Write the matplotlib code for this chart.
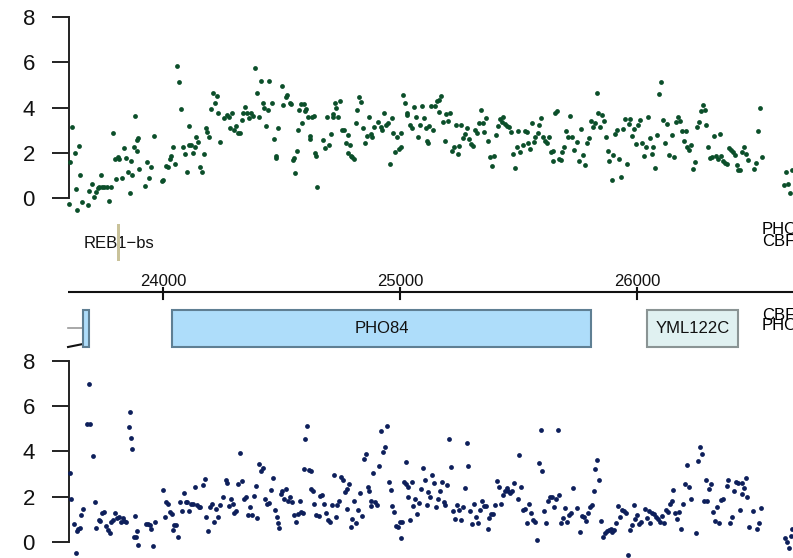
import matplotlib
matplotlib.use("Agg")
import matplotlib.pyplot as plt
from matplotlib.patches import Rectangle
import numpy as np

plt.rcParams['font.family'] = ['Liberation Sans', 'DejaVu Sans']

# ---------------------------------------------------------------- data
# genomic window (bp)
x_start, x_end = 23603, 26658
axis_ticks = [24000, 25000, 26000]
y_ticks = [0, 2, 4, 6, 8]

# upper strand signal: position (bp), value
top_pos = [
    23607, 23603, 23616, 23628, 23637, 23633, 23645, 23650, 23658, 23683, 23688, 23700,
    23709, 23717, 23725, 23730, 23738, 23742, 23751, 23763, 23772, 23780, 23789, 23797,
    23801, 23810, 23814, 23827, 23835, 23844, 23852, 23860, 23865, 23869, 23877, 23882,
    23890, 23894, 23898, 23888, 23924, 23932, 23941, 23949, 23962, 23996, 24000, 24012,
    24021, 24029, 24033, 24042, 24050, 24059, 24067, 24076, 24084, 24093, 24101, 24109,
    24111, 24118, 24126, 24135, 24139, 24147, 24156, 24164, 24173, 24181, 24185, 24194,
    24202, 24211, 24219, 24228, 24232, 24240, 24257, 24270, 24278, 24282, 24291, 24299,
    24308, 24316, 24325, 24333, 24337, 24346, 24354, 24363, 24371, 24379, 24388, 24396,
    24405, 24413, 24422, 24426, 24434, 24443, 24447,
    24502, 24519, 24523, 24506, 24536, 24540, 24460, 24485, 24468, 24476, 24478, 24548,
    24552, 24557, 24565, 24569, 24574, 24582, 24595, 24586, 24597, 24603, 24611, 24620,
    24622, 24628, 24637, 24641, 24645, 24649, 24675, 24683, 24692, 24700, 24709, 24717,
    24719, 24725, 24730, 24738, 24747, 24755, 24763, 24772, 24780, 24782, 24789, 24791,
    24797, 24806, 24814, 24818, 24827, 24835, 24843, 24852, 24860, 24869, 24877, 24881,
    24890, 24907, 24919, 24924, 24932, 24941, 24949, 24957, 24966, 24970, 24979, 24987,
    24995, 25004, 25006, 25012, 25021, 25029, 25031, 25042, 25050, 25059, 25067, 25076,
    25084, 25092, 25101, 25109, 25114, 25116, 25122, 25130, 25139, 25147, 25156, 25164,
    25173, 25166, 25181, 25189, 25194, 25202, 25211, 25219, 25227, 25236, 25244, 25249,
    25257, 25265, 25274, 25282, 25291, 25299, 25308, 25316, 25324, 25333, 25341, 25350,
    25354, 25362, 25371, 25379, 25388, 25396, 25405, 25413, 25422, 25430, 25434, 25443,
    25451, 25460, 25468, 25476, 25485, 25493, 25497,
    25506, 25519, 25527, 25535, 25540, 25548, 25557, 25565, 25569, 25582, 25586, 25594,
    25603, 25611, 25620, 25628, 25637, 25645, 25647, 25654, 25662, 25670, 25679, 25683,
    25692, 25700, 25708, 25717, 25725, 25734, 25746, 25755, 25763, 25772, 25780, 25789,
    25797, 25805, 25814, 25822, 25831, 25835, 25843, 25852, 25860, 25869, 25877, 25881,
    25894, 25898, 25907, 25915, 25924, 25932, 25940, 25949, 25957, 25966, 25970, 25978,
    25987, 25995, 26004, 26012, 26021, 26029, 26038, 26046, 26054, 26063, 26067, 26075,
    26084, 26092, 26101, 26109, 26118, 26126, 26135, 26147, 26156, 26164, 26173, 26181,
    26189, 26198, 26206, 26210, 26219, 26227, 26236, 26244, 26253, 26261, 26270, 26278,
    26286, 26291, 26299, 26308, 26316, 26324, 26333, 26341, 26350, 26354, 26362, 26371,
    26379, 26388, 26396, 26405, 26413, 26421, 26426, 26434, 26442, 26451, 26459, 26468,
    26493, 26502, 26510, 26518, 26527, 26620, 26628, 26637, 26645, 26653,
]
top_val = [
    1.62, -0.25, 3.13, 1.98, -0.51, 0.40, 2.32, 1.03, -0.16, -0.29, 0.34, 0.62,
    0.04, 0.28, 0.44, 0.51, 1.01, 0.51, 0.51, 0.51, -0.12, 0.51, 2.89, 1.75,
    0.85, 1.84, 1.75, 0.91, 2.20, 1.78, 1.15, 0.23, 1.66, 1.01, 2.28, 3.61,
    2.57, 2.64, 1.28, 2.07, 0.56, 1.62, 0.88, 1.40, 2.76, 0.76, 0.81, 1.44,
    1.37, 1.72, 1.86, 2.26, 1.51, 5.84, 5.14, 3.94, 2.28, 1.94, 1.17, 3.17,
    2.33, 2.33, 1.98, 2.28, 2.72, 2.47, 1.40, 1.17, 1.95, 3.08, 2.91, 2.69,
    3.95, 4.63, 4.18, 4.52, 3.74, 2.50, 3.52, 3.66, 3.60, 3.11, 3.74, 3.01,
    3.20, 2.86, 2.89, 3.45, 3.74, 4.04, 3.74, 3.52, 3.74, 3.63, 5.76, 4.65,
    3.60, 5.18, 4.18, 3.96, 3.19, 3.89, 5.17,
    4.95, 4.48, 4.57, 4.10, 4.18, 4.14, 4.18, 3.11, 2.63, 1.86, 1.76, 1.69,
    1.78, 1.10, 2.07, 3.01, 3.89, 4.14, 4.14, 3.30, 3.85, 3.92, 3.57, 2.75,
    2.63, 3.60, 3.64, 2.01, 1.88, 0.51, 2.57, 2.22, 3.57, 2.33, 2.83, 3.57,
    3.72, 4.18, 3.99, 3.57, 4.29, 3.01, 3.01, 2.42, 2.80, 1.98, 2.33, 1.88,
    1.84, 1.72, 3.33, 3.89, 4.45, 4.26, 3.11, 2.45, 2.75, 3.60, 2.83, 2.69,
    3.13, 3.38, 3.16, 3.01, 3.77, 3.22, 3.30, 1.53, 3.52, 2.86, 2.06, 2.72,
    2.16, 2.89, 2.28, 4.54, 4.18, 3.74, 3.67, 3.23, 3.08, 4.01, 3.57, 2.72,
    3.23, 4.07, 3.52, 3.08, 2.54, 2.42, 3.19, 4.07, 3.01, 4.07, 4.29, 4.33,
    4.51, 3.82, 3.38, 2.54, 3.72, 3.42, 3.74, 2.10, 2.28, 3.22, 1.94, 2.32,
    3.22, 2.67, 2.83, 3.08, 2.60, 2.39, 2.31, 3.01, 2.86, 3.30, 3.89, 3.33,
    2.94, 3.52, 2.54, 1.81, 1.44, 1.86, 2.79, 3.19, 3.48, 3.38, 3.57, 3.27,
    3.19, 3.13, 2.94, 1.95, 1.32, 2.28, 2.97,
    2.04, 2.33, 2.98, 2.91, 2.45, 2.17, 3.30, 2.50, 2.72, 2.86, 3.22, 3.55,
    2.69, 2.54, 2.45, 2.72, 2.06, 1.63, 2.10, 3.74, 3.86, 1.72, 1.67, 2.04,
    2.25, 2.97, 2.72, 3.64, 2.72, 2.11, 2.47, 1.66, 3.05, 1.91, 1.48, 2.45,
    2.67, 3.39, 3.16, 3.30, 4.65, 3.74, 3.13, 3.69, 3.42, 2.69, 2.10, 1.66,
    0.79, 1.89, 2.83, 3.01, 1.72, 0.94, 3.04, 3.48, 1.53, 3.26, 3.51, 2.75,
    3.04, 2.39, 3.22, 3.45, 2.45, 1.86, 2.28, 3.60, 2.66, 1.94, 2.28, 1.35,
    2.79, 4.61, 5.12, 3.45, 2.42, 3.27, 1.89, 2.79, 1.84, 3.38, 3.57, 3.42,
    2.97, 2.54, 2.97, 2.28, 2.13, 2.33, 1.31, 1.60, 3.13, 3.38, 3.85, 4.10,
    3.89, 3.25, 2.28, 1.78, 1.84, 2.75, 1.86, 1.72, 2.83, 1.86, 1.66, 1.54,
    1.50, 2.20, 2.13, 2.04, 1.89, 1.48, 1.23, 1.23, 2.03, 2.25, 1.95, 1.69,
    1.31, 1.57, 2.97, 3.98, 1.84, 0.60, 1.17, 0.63, 0.25, 1.23,
]

# lower strand signal: position (bp), value
bot_pos = [
    23607, 23612, 23624, 23633, 23637, 23641, 23650, 23654, 23662, 23679, 23688, 23692,
    23704, 23713, 23717, 23730, 23734, 23742, 23751, 23759, 23768, 23776, 23780, 23789,
    23797, 23806, 23814, 23823, 23831, 23835, 23844, 23856, 23860, 23865, 23869, 23877,
    23882, 23886, 23890, 23894, 23928, 23936, 23945, 23949, 23958, 23966, 24000, 24008,
    24012, 24021, 24029, 24038, 24040, 24046, 24055, 24063, 24071, 24080, 24088, 24097,
    24101, 24109, 24118, 24126, 24135, 24143, 24152, 24156, 24168, 24177, 24181, 24190,
    24198, 24206, 24215, 24223, 24232, 24240, 24253, 24266, 24270, 24278, 24287, 24295,
    24299, 24308, 24316, 24325, 24333, 24341, 24350, 24358, 24367, 24375, 24384, 24392,
    24396, 24405, 24413, 24422, 24430, 24438,
    24447, 24455, 24464, 24472, 24481, 24483, 24489, 24498, 24502, 24510, 24519, 24527,
    24536, 24544, 24552, 24561, 24569, 24578, 24582, 24590, 24595, 24599, 24607, 24616,
    24624, 24626, 24633, 24637, 24645, 24658, 24662, 24671, 24679, 24687, 24696, 24704,
    24713, 24721, 24730, 24734, 24742, 24751, 24759, 24768, 24776, 24784, 24778, 24793,
    24797, 24806, 24814, 24822, 24831, 24839, 24848, 24856, 24865, 24869, 24877, 24879,
    24886, 24894, 24903, 24911, 24919, 24928, 24936, 24945, 24953, 24962, 24966, 24974,
    24983, 24991, 25000, 25002, 25008, 25016, 25025, 25027, 25033, 25035, 25042, 25050,
    25054, 25063, 25071, 25080, 25088, 25097, 25105, 25114, 25118, 25126, 25135, 25143,
    25152, 25160, 25168, 25177, 25185, 25189, 25198, 25206, 25215, 25223, 25232, 25240,
    25249, 25257, 25265, 25274, 25282, 25287, 25295, 25303, 25312, 25320, 25329, 25337,
    25346, 25354, 25362, 25371, 25375, 25384, 25392, 25400, 25409, 25417, 25426, 25434,
    25443, 25451, 25455, 25464, 25472, 25481, 25497, 25502,
    25510, 25519, 25527, 25535, 25544, 25552, 25561, 25569, 25578, 25586, 25594, 25599,
    25607, 25616, 25624, 25632, 25641, 25649, 25658, 25666, 25670, 25679, 25687, 25696,
    25704, 25713, 25721, 25730, 25746, 25759, 25767, 25776, 25784, 25793, 25801, 25810,
    25818, 25822, 25831, 25839, 25848, 25856, 25865, 25873, 25881, 25890, 25894, 25902,
    25911, 25919, 25928, 25936, 25945, 25953, 25962, 25970, 25978, 25987, 25991, 26000,
    26008, 26016, 26033, 26042, 26050, 26054, 26063, 26071, 26080, 26088, 26097, 26105,
    26113, 26122, 26130, 26139, 26147, 26151, 26160, 26168, 26177, 26185, 26194, 26202,
    26210, 26219, 26227, 26248, 26257, 26265, 26274, 26282, 26291, 26295, 26303, 26312,
    26320, 26329, 26337, 26345, 26354, 26362, 26379, 26383, 26392, 26400, 26409, 26417,
    26426, 26434, 26442, 26444, 26451, 26459, 26464, 26472, 26489, 26506, 26514, 26523,
    26624, 26632, 26641, 26649, 26653,
]
bot_val = [
    3.02, 1.87, 0.80, -0.52, 0.46, 0.57, 0.59, 1.16, 1.43, 5.20, 6.98, 5.23,
    3.77, 1.77, 0.59, 0.96, 0.91, 1.28, 1.31, 0.71, 0.52, 0.37, 0.88, 0.96,
    1.28, 1.05, 1.10, 0.85, 1.03, 0.91, 0.88, 5.08, 5.73, 4.58, 4.11, 0.22,
    1.15, 0.19, 0.46, -0.15, 0.77, 0.78, 0.72, 0.57, -0.19, 0.88, 2.28, 1.08,
    1.74, 1.66, 1.31, 1.21, 0.53, 0.72, 0.72, 0.21, 1.77, 1.34, 2.16, 1.77,
    1.75, 1.34, 1.66, 1.66, 2.42, 1.61, 1.52, 1.52, 2.49, 2.78, 1.10, 0.46,
    1.55, 1.66, 0.88, 1.46, 1.10, 1.61, 1.99, 2.75, 2.58, 1.58, 1.87, 1.66,
    1.25, 1.37, 2.55, 3.93, 2.70, 1.87, 1.99, 1.19, 1.55, 1.19, 2.02, 2.46,
    1.06, 3.46, 3.14, 3.25, 1.90, 1.66,
    1.72, 2.28, 2.81, 1.40, 1.08, 0.81, 0.59, 2.09, 2.25, 1.87, 2.33, 1.80,
    1.96, 1.77, 1.18, 0.88, 1.22, 1.78, 1.33, 1.25, 3.20, 4.54, 5.10, 3.17,
    3.14, 2.34, 2.25, 1.69, 1.18, 1.15, 2.02, 2.06, 1.69, 1.28, 0.96, 0.88,
    1.62, 2.93, 1.08, 1.61, 1.81, 2.87, 2.75, 2.21, 2.33, 2.55, 1.43, 0.63,
    1.00, 1.81, 0.81, 1.40, 2.16, 1.15, 3.68, 3.90, 2.43, 2.25, 1.81, 1.58,
    3.05, 1.77, 1.62, 3.34, 4.89, 3.98, 4.17, 5.14, 2.62, 2.28, 1.58, 1.31,
    0.69, 0.63, 0.88, 0.16, 0.88, 2.65, 3.52, 2.55, 1.99, 2.43, 0.96, 2.65,
    1.58, 1.90, 1.22, 1.72, 2.33, 3.27, 2.75, 1.61, 2.21, 1.99, 2.96, 2.61,
    1.55, 1.90, 2.25, 2.65, 1.74, 1.61, 2.50, 4.54, 3.31, 1.35, 1.00, 1.61,
    1.40, 0.94, 1.55, 2.37, 4.37, 3.34, 1.35, 0.77, 1.65, 1.10, 0.81, 1.40,
    1.81, 1.58, 1.58, 0.56, 1.03, 1.22, 1.22, 1.62, 2.67, 2.42, 1.69, 2.05,
    2.25, 2.39, 2.25, 2.16, 2.25, 2.61, 1.87, 3.83,
    2.42, 1.40, 1.46, 0.81, 1.65, 1.28, 0.96, 0.88, 0.07, 3.49, 4.96, 3.14,
    1.35, 0.84, 1.81, 1.99, 1.99, 1.52, 1.87, 4.93, 2.05, 0.81, 1.03, 1.47,
    0.88, 1.18, 1.25, 2.39, 1.47, 0.41, 1.15, 1.10, 0.93, 1.25, 1.52, 1.62,
    2.25, 3.23, 3.61, 2.72, 0.93, 0.22, 0.40, 0.49, 0.52, 0.54, 0.44, 0.52,
    0.81, 1.58, 1.08, 1.40, 1.37, 1.25, -0.59, 0.52, 0.74, 1.62, 0.99, 1.19,
    0.78, 0.88, 1.43, 1.03, 1.35, 0.84, 1.28, 1.22, 1.08, 0.99, 0.88, 1.13,
    0.81, 1.40, 1.31, 1.65, 1.81, 2.28, 1.28, 1.02, 1.31, 0.57, 1.69, 2.55,
    3.39, 2.43, 1.87, 0.37, 3.56, 4.20, 3.87, 1.78, 2.75, 1.78, 2.33, 2.55,
    1.31, 0.93, 1.52, 0.84, 1.84, 1.87, 2.46, 2.75, 0.81, 1.10, 2.25, 2.65,
    2.61, 1.40, 2.09, 2.61, 2.37, 2.84, 1.99, 0.66, 1.35, 0.54, 0.81, 1.47,
    0.16, 0.00, -0.28, 0.25, 0.56,
]

# annotated features
gene_names = ["", "PHO84", "YML122C"]
gene_start = [23662, 24038, 26042]
gene_end = [23688, 25806, 26426]
gene_fill = ["#AEDDFA", "#AEDDFA", "#E0F1F1"]
gene_edge = ["#5F7F93", "#5F7F93", "#8A9494"]

site_names = ["REB1\u2212bs"]
site_pos = [23812]

# ---------------------------------------------------------------- figure
W, H = 793, 558
fig = plt.figure(figsize=(W / 100, H / 100), dpi=100)
fig.patch.set_facecolor("white")


def frac(x0, y0, x1, y1):
    """Axes rectangle from pixel box (top-left origin)."""
    return [x0 / W, 1 - y1 / H, (x1 - x0) / W, (y1 - y0) / H]


def style_signal_axis(ax):
    for s in ("top", "right", "bottom"):
        ax.spines[s].set_visible(False)
    ax.spines["left"].set_bounds(0, 8)
    ax.spines["left"].set_linewidth(1.4)
    ax.spines["left"].set_color("#222222")
    ax.set_yticks(y_ticks)
    ax.set_yticklabels([str(t) for t in y_ticks])
    ax.tick_params(axis="y", length=12.5, width=1.4, color="#222222",
                   labelsize=16, pad=12, labelcolor="#111111")
    ax.set_xticks([])
    ax.set_xlim(x_start, x_end)
    ax.patch.set_alpha(0)


# upper panel
ax_top = fig.add_axes(frac(69, 2, W, 225))
ax_top.set_ylim((198.3 - 225) / 22.7, (198.3 - 2) / 22.7)
style_signal_axis(ax_top)
ax_top.scatter(top_pos, top_val, s=12, color="#0B4F2A", linewidths=0,
               clip_on=False, zorder=3)

# lower panel
ax_bot = fig.add_axes(frac(69, 345, W, H))
ax_bot.set_ylim((541.7 - H) / 22.6, (541.7 - 345) / 22.6)
style_signal_axis(ax_bot)
ax_bot.scatter(bot_pos, bot_val, s=12, color="#0D1F5B", linewidths=0,
               clip_on=False, zorder=3)

# middle annotation track (y in pixel rows)
ax_mid = fig.add_axes(frac(69, 212, W, 360))
ax_mid.set_xlim(x_start, x_end)
ax_mid.set_ylim(360, 212)
ax_mid.axis("off")
ax_mid.patch.set_alpha(0)

# coordinate axis
ax_mid.plot([x_start - 4, x_end], [292, 292], color="#111111", lw=1.5,
            clip_on=False, solid_capstyle="butt")
for t in axis_ticks:
    ax_mid.plot([t, t], [288, 299], color="#111111", lw=1.5, clip_on=False)
    ax_mid.text(t, 281, str(t), ha="center", va="center", fontsize=12,
                color="#111111")

# binding site
for name, p in zip(site_names, site_pos):
    ax_mid.text(p, 243, name, ha="center", va="center", fontsize=12,
                color="#111111", zorder=2)
    ax_mid.add_patch(Rectangle((p - 8, 224), 16, 37, facecolor="#C9C29A",
                               edgecolor="none", zorder=3))

# genes
for name, s, e, fc, ec in zip(gene_names, gene_start, gene_end,
                              gene_fill, gene_edge):
    ax_mid.add_patch(Rectangle((s, 310), e - s, 37, facecolor=fc,
                               edgecolor=ec, lw=1.5, zorder=3))
    if name:
        ax_mid.text((s + e) / 2, 328.5, name, ha="center", va="center",
                    fontsize=12, color="#111111", zorder=4)

# connector strokes next to the truncated gene at the left edge
ax_mid.plot([x_start - 4, gene_start[0]], [328, 328], color="#9A9A9A",
            lw=1.2, clip_on=False)
ax_mid.plot([x_start - 4, gene_start[0]], [347, 344], color="#111111",
            lw=1.5, clip_on=False)

# feature labels running off the right edge
fig.text(762 / W, 1 - 230 / H, "PHO4", fontsize=12, va="center", ha="left")
fig.text(762 / W, 1 - 241 / H, "CBF1", fontsize=12, va="center", ha="left")
fig.text(762 / W, 1 - 315 / H, "CBF1", fontsize=12, va="center", ha="left")
fig.text(762 / W, 1 - 326 / H, "PHO4", fontsize=12, va="center", ha="left")

fig.savefig("out.png", dpi=100, facecolor="white")
